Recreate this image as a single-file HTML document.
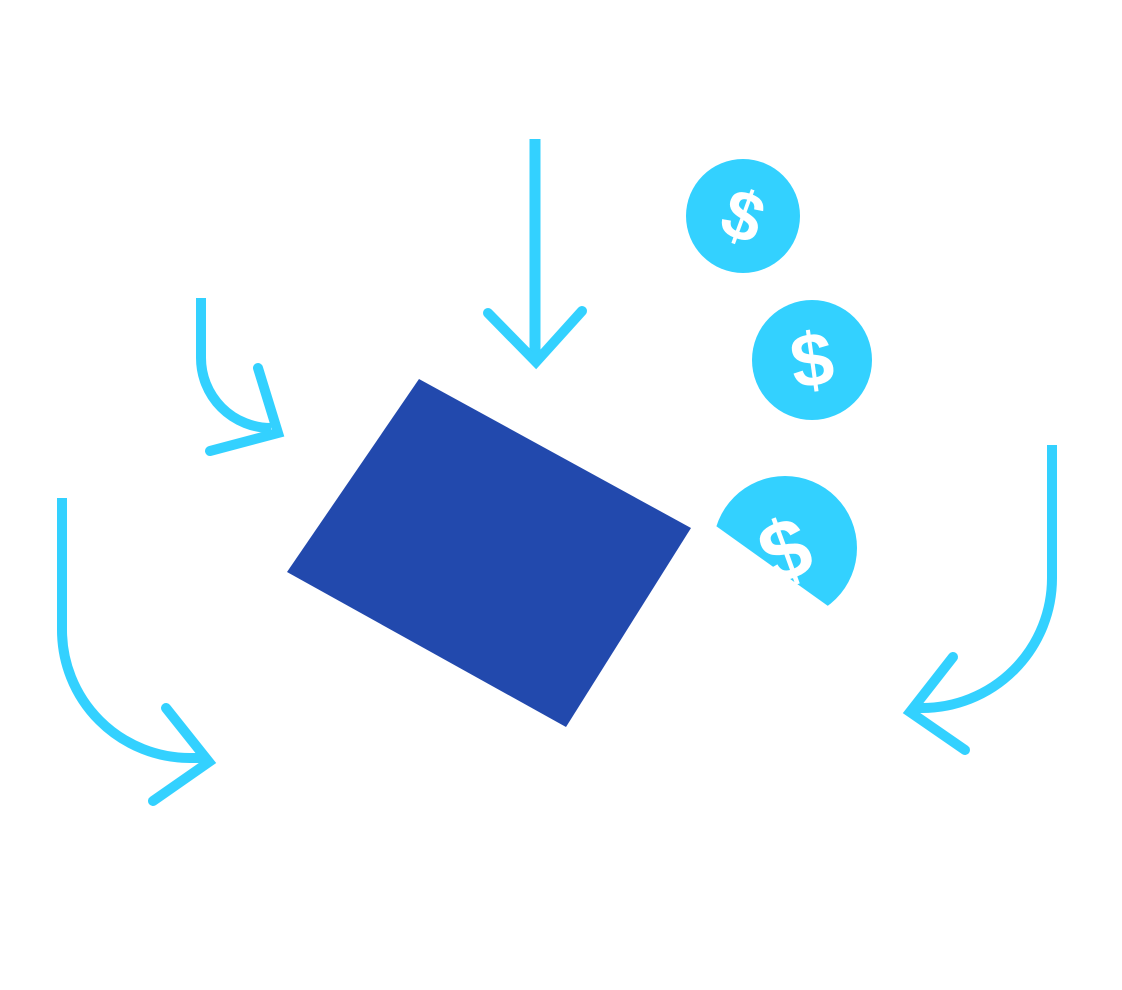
<!DOCTYPE html>
<html><head><style>
html,body{margin:0;padding:0;background:#fff;width:1122px;height:990px;overflow:hidden}
svg{display:block}
text{font-family:"Liberation Sans",sans-serif;font-weight:bold;fill:#fff}
</style></head><body>
<svg width="1122" height="990" viewBox="0 0 1122 990">
<g fill="none" stroke="#33d1ff" stroke-width="10" stroke-linecap="round">
<line x1="535" y1="139" x2="535" y2="360" stroke-linecap="butt" stroke-width="11"/>
<polyline points="488,313 536,362 582,311"/>
<path d="M201,298 V358 A70,70 0 0 0 271,428" stroke-linecap="butt"/>
<polyline points="258,368 278,433 210,451"/>
<path d="M62,498 V630 A128,128 0 0 0 190,758 H204" stroke-linecap="butt"/>
<polyline points="166,708 209,762 153,801"/>
<path d="M1052,445 V578 A130,130 0 0 1 922,708 H914" stroke-linecap="butt"/>
<polyline points="953,657 910,712 965,750"/>
</g>
<polygon points="419,379 691,528 566,727 287,572" fill="#2249ad"/>
<circle cx="743" cy="216" r="57" fill="#33d1ff"/>
<text x="743" y="240" font-size="70" text-anchor="middle" transform="rotate(20 743 216)">$</text>
<circle cx="812" cy="360" r="60" fill="#33d1ff"/>
<text x="812" y="386" font-size="76" text-anchor="middle" transform="rotate(-8 812 360)">$</text>
<circle cx="785" cy="548" r="72" fill="#33d1ff"/>
<polygon points="716,526 828,606 828,640 700,640 700,526" fill="#fff"/>
<text x="785" y="580" font-size="86" text-anchor="middle" transform="rotate(-20 785 550)">$</text>
</svg>
</body></html>
